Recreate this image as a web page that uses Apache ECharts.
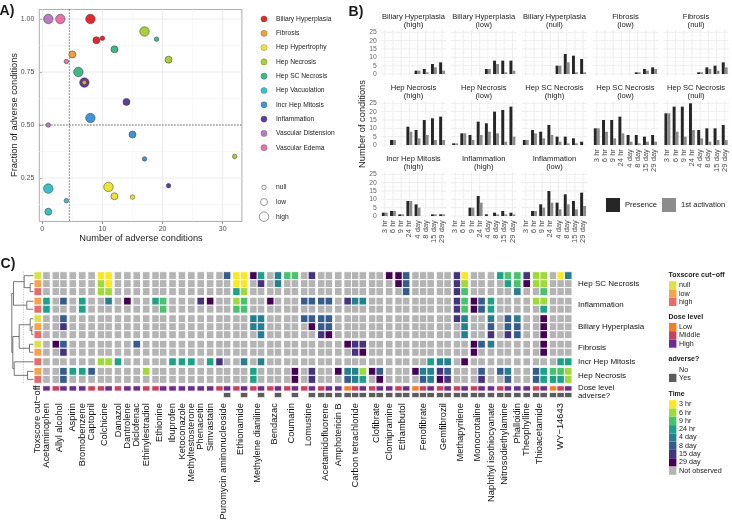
<!DOCTYPE html>
<html><head><meta charset="utf-8">
<script src="https://cdn.jsdelivr.net/npm/echarts@6/dist/echarts.min.js"></script>
<style>html,body{margin:0;padding:0;background:#fff}#c{width:732px;height:523px}</style>
</head><body><div id="c"></div>
<script>
// ================= DATA =================
// ---- Panel A ----
const pathologies = ['Biliary Hyperplasia','Fibrosis','Hep Hypertrophy','Hep Necrosis','Hep SC Necrosis','Hep Vacuolation','Incr Hep Mitosis','Inflammation','Vascular Distension','Vascular Edema'];
const cutoffLevels = ['null','low','high'];
// [pathology index, number of adverse conditions, fraction of adverse conditions, cut-off index]
const scatterPoints = [
  [8,1,1.0,2],[9,3,1.0,2],[0,8,1.0,2],[3,17,0.941,2],[4,19,0.905,0],[0,9,0.90,1],[0,10,0.909,0],
  [4,12,0.857,1],[3,21,0.808,1],[1,5,0.833,1],[9,4,0.80,0],[4,6,0.75,2],[7,7,0.70,2],[1,7,0.70,0],
  [7,14,0.609,1],[6,8,0.533,2],[8,1,0.50,0],[6,15,0.455,1],[6,17,0.34,0],[3,32,0.352,0],
  [5,1,0.20,2],[2,11,0.208,2],[7,21,0.214,0],[2,12,0.164,1],[2,15,0.16,0],[5,4,0.143,0],[5,1,0.091,1]
];
const xTicksA = [0,10,20,30];
const xMinorA = [5,15,25];
const yTicksA = [0.25,0.5,0.75,1.0];
const yMinorA = [0.125,0.375,0.625,0.875];
const cutNumber = 4.5, cutFraction = 0.5;

// ---- Panel B ----
const timePoints = ['3 hr','6 hr','9 hr','24 hr','4 day','8 day','15 day','29 day'];
const facetPathology = ['Biliary Hyperplasia','Biliary Hyperplasia','Biliary Hyperplasia','Fibrosis','Fibrosis','Hep Necrosis','Hep Necrosis','Hep SC Necrosis','Hep SC Necrosis','Hep SC Necrosis','Incr Hep Mitosis','Inflammation','Inflammation'];
const facetCutoff = ['high','low','null','low','null','high','low','high','low','null','high','high','low'];
const presence = [
  [0,0,0,0,2,3,6,7],[0,0,0,0,3,8,8,8],[0,0,0,0,5,12,11,9],[0,0,0,0,0,1,3,4],[0,0,0,0,1,4,5,7],
  [0,3,0,11,9,15,16,17],[1,7,6,14,13,20,21,23],[3,9,8,12,5,5,4,2],[10,15,15,17,6,6,5,6],[19,23,23,25,9,10,10,12],
  [2,3,1,9,7,0,1,1],[0,0,5,12,1,2,3,2],[0,3,7,15,8,13,9,14]
];
const firstActivation = [
  [0,0,0,0,2,1,4,2],[0,0,0,0,3,6,1,2],[0,0,0,0,5,7,1,1],[0,0,0,0,0,1,2,3],[0,0,0,0,1,3,2,4],
  [0,3,0,8,4,6,3,3],[1,7,3,6,8,7,2,5],[3,7,4,6,2,1,1,0],[10,8,4,7,2,1,2,2],[19,8,5,9,4,2,3,3],
  [2,3,1,9,5,0,1,1],[0,0,5,8,0,1,1,1],[0,3,5,8,4,7,4,6]
];
const barSeriesNames = ['Presence','1st activation'];
const yTicksB = [0,5,10,15,20,25];
const yMinorB = [2.5,7.5,12.5,17.5,22.5];

// ---- Panel C ----
const compounds = ['Acetaminophen','Allyl alcohol','Aspirin','Bromobenzene','Captopril','Colchicine','Danazol','Dantrolene','Diclofenac','Ethinylestradiol','Ethionine','Ibuprofen','Ketoconazole','Methyltestosterone','Phenacetin','Simvastatin','Puromycin aminonucleoside','Ethionamide','Methylene dianiline','Bendazac','Coumarin','Lomustine','Acetamidofluorene','Amphotericin B','Carbon tetrachloride','Clofibrate','Clomipramine','Ethambutol','Fenofibrate','Gemfibrozil','Methapyrilene','Monocrotaline','Naphthyl isothiocyanate','Nitrosodiethylamine','Phalloidin','Theophylline','Thioacetamide','WY\u221214643'];
const compoundDoses = ['H','MH','H','H','M','MH','M','H','H','M','MH','H','H','H','H','H','MH','MH','MH','MH','MH','MH','MH','H','LMH','MH','H','MH','LMH','MH','MH','MH','H','MH','H','H','MH','LMH'];
const compoundAdverse = ['N','NN','N','N','N','NN','N','N','N','N','NN','N','N','N','N','N','NY','NY','NY','NY','NY','NY','YY','Y','YYY','YY','Y','YY','YYY','YY','YY','YY','Y','YY','Y','Y','YY','YYY'];
const doseLevels = ['Low','Middle','High'];
const hmRowPathology = ['Hep SC Necrosis','Hep SC Necrosis','Hep SC Necrosis','Inflammation','Inflammation','Biliary Hyperplasia','Biliary Hyperplasia','Biliary Hyperplasia','Fibrosis','Fibrosis','Incr Hep Mitosis','Hep Necrosis','Hep Necrosis'];
const hmRowCutoff = ['null','low','high','low','high','null','low','high','null','low','high','low','high'];
// observed first time: [row, column(cell), time index]
const hmObs = [
  [0,6,0],[0,7,0],[1,6,1],[1,7,0],[2,6,1],[2,7,1],[0,20,5],
  [0,21,0],[0,22,0],[1,21,0],[1,22,0],[2,21,3],[2,22,1],
  [0,23,7],[0,24,3],[1,24,6],[0,26,4],[1,26,4],[0,27,2],[0,28,2],[0,30,6],
  [0,39,7],[0,40,7],[1,40,7],[0,41,5],[1,41,5],[2,41,5],
  [0,47,6],[1,47,6],[2,47,6],[0,48,0],[1,48,1],[2,48,2],
  [0,52,3],[0,53,2],[1,53,3],[0,54,2],[1,54,2],[2,54,4],[0,55,6],[1,55,7],
  [0,56,1],[0,57,1],[1,56,1],[1,57,1],[2,57,2],[0,59,0],[0,60,4],
  [3,0,3],[4,0,3],[3,2,5],[3,4,3],[4,4,3],[3,7,4],[3,9,7],[3,12,3],[3,13,2],[4,13,2],
  [3,17,6],[3,18,7],[3,21,1],[3,22,2],[4,21,2],[4,22,2],[3,25,7],
  [3,29,5],[3,30,5],[3,31,5],[3,32,5],[3,34,6],[3,35,4],[3,36,4],
  [3,47,6],[4,47,6],[3,48,2],[4,48,2],[3,49,7],[4,49,7],[3,50,5],[4,50,5],[3,51,3],[4,51,3],
  [3,56,1],[3,57,1],[4,57,3],
  [5,2,5],[6,2,6],[5,23,4],[5,24,4],[6,23,4],[6,24,4],[7,24,4],
  [5,29,5],[5,30,5],[6,30,7],[5,31,5],[5,32,5],[6,31,5],[6,32,5],[7,31,6],[7,32,7],
  [5,47,6],[5,48,4],[6,48,4],[7,48,4],[5,51,4],[6,51,5],[7,51,6],
  [5,53,5],[6,53,5],[7,53,6],[5,54,4],[6,54,5],[7,54,5],[5,57,7],[6,57,7],[7,57,7],
  [8,1,7],[8,2,5],[9,2,6],[8,10,5],[8,34,7],[8,35,6],[8,36,6],[9,35,6],[9,36,7],
  [8,49,7],[9,49,7],[8,50,5],[8,51,4],[8,57,7],[9,57,7],
  [10,6,1],[10,7,1],[10,8,3],[10,14,3],[10,15,3],[10,16,3],[10,18,3],[10,19,6],[10,22,4],[10,24,4],
  [10,44,3],[10,45,4],[10,46,4],[10,48,7],[10,59,3],[10,60,3],
  [11,2,5],[12,2,5],[11,3,3],[11,4,3],[11,5,5],[11,11,1],[11,23,3],[12,23,3],
  [11,28,7],[12,28,7],[11,30,6],[12,30,6],[11,33,7],
  [11,34,4],[11,35,4],[11,36,1],[12,34,5],[12,35,4],[12,36,3],
  [11,37,7],[11,38,5],[12,38,7],[11,42,7],[11,43,4],[11,44,4],[12,43,5],[12,44,4],
  [11,45,6],[12,45,7],[11,46,5],[12,46,6],[11,50,5],[12,50,6],
  [11,52,5],[11,53,4],[12,53,5],[11,56,5],[12,56,5],[11,57,3],[12,57,3],
  [11,58,2],[12,58,3],[11,59,2],[12,59,3],[11,60,1],[12,60,1]
];
// row dendrogram merges: [childA, childB, height]; child >= 0 leaf row, child < 0 merge (-i-1)
const dendroMerges = [[1,2,3.3],[0,-1,9.3],[3,4,6.7],[-2,-3,20],[6,7,1.7],[5,-5,3.3],[8,9,4],[-6,-7,14.3],[11,12,6],[10,-9,19.3],[-8,-10,20.7],[-4,-11,21.7]];
const dendroCut = 10;

// ================= STYLE =================
const FONT = '"Liberation Sans", Arial, Helvetica, sans-serif';
const pathColors = ['#e8262b','#f2a13a','#ece43b','#a8d03d','#3fb98a','#3dbfc6','#3f95dc','#5b3f9d','#b97cc3','#e873a6'];
const sizeByCutoff = [4.5, 7, 9.5];
const barColors = ['#262626','#8c8c8c'];
const timeColors = ['#fde725','#9fda3a','#4ac16d','#1fa187','#277f8e','#365c8d','#46337e','#440154'];
const notObsColor = '#b4b4b4';
const cutoffColors = ['#d9e246','#f9a24c','#e86b6b'];
const doseColors = ['#f47d2b','#c8415f','#6c2c8c'];
const adverseColor = '#5c5c5c';
const COMP_GAP = 0.242, GROUP_GAP = 0.2;
const DOSE_Y = [14.3, 14.97], ADV_Y = [15.13, 15.8];

// ================= BUILD =================
const grids = [], xAxes = [], yAxes = [], series = [], graphics = [];
function txt(x, y, text, opt, rot) {
  const g = {type:'text', x, y, silent:true, style:Object.assign({text, fontFamily:FONT, fontSize:7, fill:'#1a1a1a', align:'left', verticalAlign:'middle'}, opt||{})};
  if (rot) g.rotation = rot;
  graphics.push(g);
}
function lineSeries(gi, items, refVal) {
  // items: [orient 0=vertical 1=horizontal, value, color, width, dashed]
  series.push({type:'custom', xAxisIndex:gi, yAxisIndex:gi, silent:true, z:1, clip:false,
    data: items.map((d,i)=>[i]),
    renderItem(params, api) {
      const d = items[params.dataIndex], cs = params.coordSys;
      let shape;
      if (d[0] === 0) { const x = api.coord([d[1], refVal[1]])[0]; shape = {x1:x, y1:cs.y, x2:x, y2:cs.y+cs.height}; }
      else { const y = api.coord([refVal[0], d[1]])[1]; shape = {x1:cs.x, y1:y, x2:cs.x+cs.width, y2:y}; }
      return {type:'line', shape, style:{stroke:d[2], lineWidth:d[3], lineDash: d[4] ? [1.2,1.8] : null}};
    }});
}

// ---------- Panel A ----------
grids.push({left:39.3, top:9.46, width:202.6, height:212, show:true, borderColor:'#8a8a8a', borderWidth:0.7, backgroundColor:'#fff'});
xAxes.push({type:'value', gridIndex:0, min:-0.5, max:33.2, splitLine:{show:false}, axisLine:{show:false},
  axisTick:{show:true, customValues:xTicksA, length:2.5, lineStyle:{color:'#444', width:0.6}},
  axisLabel:{customValues:xTicksA, fontSize:7, color:'#4d4d4d', margin:4, fontFamily:FONT}});
yAxes.push({type:'value', gridIndex:0, min:0.045, max:1.045, splitLine:{show:false}, axisLine:{show:false},
  axisTick:{show:true, customValues:yTicksA, length:2.5, lineStyle:{color:'#444', width:0.6}},
  axisLabel:{customValues:yTicksA, fontSize:7, color:'#4d4d4d', margin:5, fontFamily:FONT, formatter:v=>v.toFixed(2)}});
lineSeries(0, [
  ...xMinorA.map(v=>[0,v,'#f3f3f3',0.5]), ...yMinorA.map(v=>[1,v,'#f3f3f3',0.5]),
  ...xTicksA.map(v=>[0,v,'#e6e6e6',0.8]), ...yTicksA.map(v=>[1,v,'#e6e6e6',0.8]),
  [0,cutNumber,'#222',0.8,true],[1,cutFraction,'#222',0.8,true]
], [0.5, 0.5]);
for (let p = pathologies.length-1; p >= 0; p--) {
  series.push({type:'scatter', name:pathologies[p], xAxisIndex:0, yAxisIndex:0, z:3,
    data: scatterPoints.filter(d=>d[0]===p).map(d=>[d[1], d[2], d[3]]),
    symbolSize: v => sizeByCutoff[v[2]],
    itemStyle:{color:pathColors[p], borderColor:'#333', borderWidth:0.5, opacity:1}});
}
txt(7, 11, 'A)', {fontSize:14, fontWeight:'bold', align:'center'});
txt(141, 238, 'Number of adverse conditions', {fontSize:9.3, align:'center'});
txt(14, 115, 'Fraction of adverse conditions', {fontSize:9.3, align:'center'}, Math.PI/2);
pathologies.forEach((p,i)=>{
  graphics.push({type:'circle', silent:true, shape:{cx:264, cy:19+i*14.3, r:3.1}, style:{fill:pathColors[i], stroke:'#444', lineWidth:0.3}});
  txt(276, 19+i*14.3, p, {fontSize:6.7});
});
cutoffLevels.forEach((c,i)=>{
  graphics.push({type:'circle', silent:true, shape:{cx:264, cy:187.3+i*14.7, r:sizeByCutoff[i]/2}, style:{fill:'#fff', stroke:'#555', lineWidth:0.6}});
  txt(276, 187.3+i*14.7, c, {fontSize:6.7});
});

// ---------- Panel B ----------
const colLeft = [380.7, 451, 521.7, 592.7, 663.3], rowTop = [30.2, 101.2, 172.2];
const facetW = 65.5, facetH = 45.9;
facetPathology.forEach((name, f) => {
  const gi = grids.length, col = f % 5, row = Math.floor(f / 5);
  const bottomPanel = (f + 5 >= facetPathology.length);
  grids.push({left:colLeft[col], top:rowTop[row], width:facetW, height:facetH, show:false});
  xAxes.push({type:'category', gridIndex:gi, data:timePoints, boundaryGap:true, axisLine:{show:false}, axisTick:{show:false}, splitLine:{show:false},
    axisLabel:{show:bottomPanel, rotate:90, interval:0, fontSize:7.6, color:'#4d4d4d', margin:2, fontFamily:FONT}});
  yAxes.push({type:'value', gridIndex:gi, min:-1.25, max:26.25, splitLine:{show:false}, axisLine:{show:false}, axisTick:{show:false},
    axisLabel:{show:col===0, customValues:yTicksB, fontSize:6.8, color:'#666', margin:4, fontFamily:FONT}});
  lineSeries(gi, [
    ...yMinorB.map(v=>[1,v,'#f4f4f4',0.5]), ...yTicksB.map(v=>[1,v,'#e8e8e8',0.7]),
    ...timePoints.map((t,k)=>[0,k,'#e8e8e8',0.7])
  ], [0, 0]);
  const bars = [];
  timePoints.forEach((t,k)=>{
    if (presence[f][k] > 0) bars.push([k, presence[f][k], 0]);
    if (firstActivation[f][k] > 0) bars.push([k, firstActivation[f][k], 1]);
  });
  series.push({type:'custom', xAxisIndex:gi, yAxisIndex:gi, z:2, clip:false, data:bars,
    renderItem(params, api) {
      const k = api.value(0), v = api.value(1), s = api.value(2);
      const top = api.coord([k, v]), base = api.coord([k, 0]);
      const bw = api.size([1, 0])[0] * 0.36;
      return {type:'rect', shape:{x:top[0]-bw+s*bw, y:top[1], width:bw, height:base[1]-top[1]}, style:{fill:barColors[s]}};
    }});
  txt(colLeft[col]+facetW/2, rowTop[row]-13.6, name, {fontSize:7.6, align:'center'});
  txt(colLeft[col]+facetW/2, rowTop[row]-5.6, '(' + facetCutoff[f] + ')', {fontSize:7.6, align:'center'});
});
txt(356, 12, 'B)', {fontSize:14, fontWeight:'bold', align:'center'});
txt(362, 124, 'Number of conditions', {fontSize:9.3, align:'center'}, Math.PI/2);
barSeriesNames.forEach((n,i)=>{
  const x = [606, 662][i];
  graphics.push({type:'rect', silent:true, shape:{x, y:198, width:14, height:14}, style:{fill:barColors[i]}});
  txt(x+19, 205.3, n, {fontSize:7.6});
});

// ---------- Panel C ----------
const cellX = [], cellDose = [], cellAdv = [], compCenter = [];
let nCells = 0;
compounds.forEach((c,k)=>{
  const first = nCells + k*COMP_GAP;
  for (let j=0;j<compoundDoses[k].length;j++) {
    cellX.push(nCells + k*COMP_GAP);
    cellDose.push('LMH'.indexOf(compoundDoses[k][j]));
    cellAdv.push(compoundAdverse[k][j] === 'Y');
    nCells++;
  }
  compCenter.push((first + nCells + k*COMP_GAP) / 2);
});
const xMaxC = nCells + (compounds.length-1)*COMP_GAP;
const rowGroup = []; let gIdx = 0;
hmRowPathology.forEach((p,r)=>{ if (r>0 && p!==hmRowPathology[r-1]) gIdx++; rowGroup.push(gIdx); });
const rowY = hmRowPathology.map((p,r)=> r + rowGroup[r]*GROUP_GAP);
const yBottomRows = rowY[rowY.length-1] + 1;

const giC = grids.length;
grids.push({left:33.6, top:271.7, width:538.4, height:126, show:false});
xAxes.push({type:'value', gridIndex:giC, min:-1.2, max:xMaxC, show:false});
yAxes.push({type:'value', gridIndex:giC, min:0, max:ADV_Y[1], inverse:true, show:false});

const obsMap = {};
hmObs.forEach(([r,c,t])=>{ obsMap[r+'_'+c] = t; });
const hmData = [];
hmRowPathology.forEach((p,r)=>{ cellX.forEach((x,c)=>{ const t = obsMap[r+'_'+c]; hmData.push([x, rowY[r], t===undefined ? 8 : t]); }); });
function rectItem(api, x0, y0, x1, y1, fill, lw) {
  const p0 = api.coord([x0, y0]), p1 = api.coord([x1, y1]);
  return {type:'rect', shape:{x:p0[0], y:p0[1], width:p1[0]-p0[0], height:p1[1]-p0[1]}, style:{fill, stroke:'#fff', lineWidth:lw}};
}
series.push({type:'custom', xAxisIndex:giC, yAxisIndex:giC, z:2, clip:false, data:hmData,
  renderItem(params, api){ const t = api.value(2); return rectItem(api, api.value(0), api.value(1), api.value(0)+1, api.value(1)+1, t===8?notObsColor:timeColors[t], 0.9); }});
// toxscore cut-off annotation column
series.push({type:'custom', xAxisIndex:giC, yAxisIndex:giC, z:2, clip:false,
  data: hmRowCutoff.map((c,r)=>[-1.15, rowY[r], cutoffLevels.indexOf(c)]),
  renderItem(params, api){ return rectItem(api, api.value(0), api.value(1), api.value(0)+1, api.value(1)+1, cutoffColors[api.value(2)], 0.9); }});
// dose level row
series.push({type:'custom', xAxisIndex:giC, yAxisIndex:giC, z:2, clip:false,
  data: cellX.map((x,c)=>[x, DOSE_Y[0], cellDose[c]]),
  renderItem(params, api){ return rectItem(api, api.value(0), DOSE_Y[0], api.value(0)+1, DOSE_Y[1], doseColors[api.value(2)], 0.9); }});
// adverse row
series.push({type:'custom', xAxisIndex:giC, yAxisIndex:giC, z:2, clip:false,
  data: cellX.filter((x,c)=>cellAdv[c]).map(x=>[x, ADV_Y[0]]),
  renderItem(params, api){ return rectItem(api, api.value(0), ADV_Y[0], api.value(0)+1, ADV_Y[1], adverseColor, 0.9); }});
// compound labels
series.push({type:'custom', xAxisIndex:giC, yAxisIndex:giC, z:2, clip:false, silent:true,
  data: compCenter.map(x=>[x, ADV_Y[1]]),
  renderItem(params, api){ const p = api.coord([api.value(0), api.value(1)]);
    return {type:'text', x:p[0], y:p[1]+5.5, rotation:Math.PI/2, style:{text:compounds[params.dataIndex], fontFamily:FONT, fontSize:9.3, fill:'#111', align:'right', verticalAlign:'middle'}}; }});
// annotation column label
series.push({type:'custom', xAxisIndex:giC, yAxisIndex:giC, z:2, clip:false, silent:true,
  data: [[-0.65, yBottomRows]],
  renderItem(params, api){ const p = api.coord([api.value(0), api.value(1)]);
    return {type:'text', x:p[0], y:p[1]+2, rotation:Math.PI/2, style:{text:'Toxscore cut\u2212off', fontFamily:FONT, fontSize:9.3, fill:'#111', align:'right', verticalAlign:'middle'}}; }});
// row group labels
const groupNames = [], groupCenters = [];
hmRowPathology.forEach((p,r)=>{ const g = rowGroup[r]; if (groupNames[g]===undefined){ groupNames[g]=p; groupCenters[g]=[rowY[r], rowY[r]+1]; } else groupCenters[g][1] = rowY[r]+1; });
const sideLabels = groupNames.map((n,g)=>[n, (groupCenters[g][0]+groupCenters[g][1])/2, 8])
  .concat([['Dose level', (DOSE_Y[0]+DOSE_Y[1])/2 - 0.12, 7.8], ['adverse?', (ADV_Y[0]+ADV_Y[1])/2 + 0.05, 7.8]]);
series.push({type:'custom', xAxisIndex:giC, yAxisIndex:giC, z:2, clip:false, silent:true,
  data: sideLabels.map(d=>[xMaxC, d[1]]),
  renderItem(params, api){ const p = api.coord([api.value(0), api.value(1)]); const d = sideLabels[params.dataIndex];
    return {type:'text', x:p[0]+6, y:p[1], style:{text:d[0], fontFamily:FONT, fontSize:d[2], fill:'#111', align:'left', verticalAlign:'middle'}}; }});

// dendrogram
const giD = grids.length;
grids.push({left:10, top:271.7, width:23.5, height:126, show:false});
xAxes.push({type:'value', gridIndex:giD, min:0, max:23.5, inverse:true, show:false});
yAxes.push({type:'value', gridIndex:giD, min:0, max:ADV_Y[1], inverse:true, show:false});
const nodeY = [], nodeH = [];
function dChild(c){ return c >= 0 ? [0, rowY[c]+0.5] : [nodeH[-c-1], nodeY[-c-1]]; }
const dendroData = dendroMerges.map(([a,b,h],i)=>{ const A = dChild(a), B = dChild(b); nodeY[i] = (A[1]+B[1])/2; nodeH[i] = h; return [h, nodeY[i], A[0], A[1], B[0], B[1]]; });
series.push({type:'custom', xAxisIndex:giD, yAxisIndex:giD, z:2, clip:false, silent:true, data:dendroData,
  renderItem(params, api){
    const h = api.value(0);
    const pts = [[api.value(2), api.value(3)], [h, api.value(3)], [h, api.value(5)], [api.value(4), api.value(5)]].map(q=>api.coord(q));
    return {type:'polyline', shape:{points:pts}, style:{stroke:'#555', lineWidth:0.8, fill:null}};
  }});
series.push({type:'custom', xAxisIndex:giD, yAxisIndex:giD, z:1, clip:false, silent:true, data:[[dendroCut, 0]],
  renderItem(params, api){ const p0 = api.coord([api.value(0), 0]), p1 = api.coord([api.value(0), yBottomRows]);
    return {type:'line', shape:{x1:p0[0], y1:p0[1], x2:p1[0], y2:p1[1]}, style:{stroke:'#aaa', lineWidth:0.7, lineDash:[1,1.5]}}; }});

txt(8, 264, 'C)', {fontSize:14, fontWeight:'bold', align:'center'});
// heatmap legends
const legendBlocks = [
  ['Toxscore cut\u2212off', 275, cutoffLevels, cutoffColors],
  ['Dose level', 316.7, doseLevels, doseColors],
  ['adverse?', 359.3, ['No','Yes'], [null, adverseColor]],
  ['Time', 394, timePoints.concat(['Not observed']), timeColors.concat([notObsColor])]
];
legendBlocks.forEach(([title, y0, items, cols])=>{
  txt(668.5, y0, title, {fontSize:7, fontWeight:'bold'});
  items.forEach((it,i)=>{
    const yc = y0 + 10.3 + i*8.3;
    if (cols[i]) graphics.push({type:'rect', silent:true, shape:{x:669, y:yc-4.1, width:7.4, height:8.2}, style:{fill:cols[i]}});
    txt(679, yc, it, {fontSize:7.2});
  });
});

const chart = echarts.init(document.getElementById('c'), null, {renderer:'canvas', width:732, height:523});
chart.setOption({
  animation:false, backgroundColor:'#fff',
  textStyle:{fontFamily:FONT},
  grid:grids, xAxis:xAxes, yAxis:yAxes, series, graphic:graphics
});
</script></body></html>
